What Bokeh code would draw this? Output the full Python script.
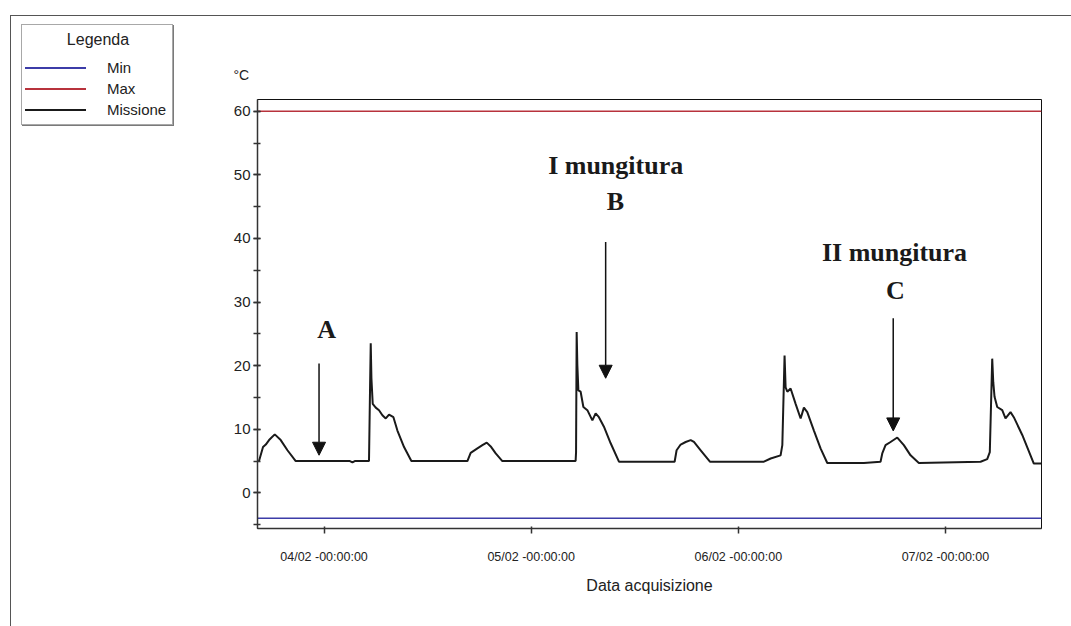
import pandas as pd
from bokeh.plotting import figure
from bokeh.layouts import row
from bokeh.models import (Range1d, FixedTicker, SingleIntervalTicker, DatetimeTickFormatter,
                          Arrow, NormalHead, Label, Div)
from bokeh.embed import file_html
from bokeh.resources import INLINE

# ---------------- data ----------------
BASE = pd.Timestamp("2011-02-04 00:00:00")   # 04/02 -00:00:00

# hours after 04/02 00:00 and temperature of the "Missione" series (°C)
mission_hours = [
    -7.56, -7.07, -6.75, -6.37, -5.71, -5.02, -4.24, -3.28, 3.00, 3.29, 3.56, 5.21,
    5.33, 5.41, 5.49, 5.64, 5.99, 6.37, 6.76, 7.15, 7.53, 8.04, 8.50, 9.27, 10.12,
    16.61, 16.99, 17.77, 18.35, 18.85, 19.31, 19.89, 20.66, 29.15, 29.20, 29.27, 29.35,
    29.47, 29.73, 30.05, 30.51, 31.09, 31.47, 31.85, 32.43, 33.21, 34.17,
    40.62, 40.85, 41.32, 41.90, 42.48, 42.86, 43.64, 44.71, 50.97, 51.75, 52.90, 53.10,
    53.36, 53.48, 53.68, 54.06, 54.64, 55.22, 55.60, 55.99, 56.76, 57.53, 58.31,
    62.55, 64.48, 64.68, 65.06, 65.64, 66.42, 67.18, 67.96, 68.92, 76.07, 76.84, 77.14,
    77.42, 77.54, 77.69, 78.00, 78.58, 78.96, 79.54, 79.92, 80.90, 82.24, 83.13,
]
mission_temps = [
    4.9, 7.2, 7.6, 8.3, 9.2, 8.3, 6.7, 5.0, 5.0, 4.8, 5.0, 5.0,
    16.4, 23.5, 18.0, 14.0, 13.4, 13.0, 12.2, 11.7, 12.3, 11.9, 9.8, 7.2, 5.0,
    5.0, 6.3, 7.0, 7.5, 7.9, 7.3, 6.2, 5.0, 5.0, 6.4, 25.3, 20.1,
    16.1, 15.9, 13.5, 13.0, 11.4, 12.5, 11.9, 10.4, 7.8, 4.9,
    4.9, 6.7, 7.6, 8.0, 8.3, 8.0, 6.7, 4.9, 4.9, 5.4, 5.9, 7.5,
    21.6, 16.6, 15.9, 16.4, 14.0, 11.7, 13.4, 12.7, 9.8, 7.0, 4.7,
    4.7, 4.9, 6.2, 7.5, 8.0, 8.7, 7.5, 5.9, 4.7, 4.9, 5.3, 6.4,
    21.1, 17.4, 15.1, 13.5, 13.0, 11.7, 12.7, 11.9, 9.1, 4.6, 4.6,
]

min_limit = -4     # "Min"
max_limit = 60     # "Max"

x_range_hours = [-7.71, 83.13]
y_range_vals = [-5.6, 61.84]
tick_days = [0, 1, 2, 3]            # 04/02 .. 07/02 at midnight

# annotations (hours, °C)
note_texts = ["A", "I mungitura", "B", "II mungitura", "C"]
note_hours = [0.31, 33.79, 33.77, 66.1, 66.2]
note_temps = [25.75, 51.4, 45.8, 37.8, 31.84]
arrow_hours = [-0.58, 32.63, 65.95]
arrow_top = [20.32, 39.42, 27.44]
arrow_tip = [5.92, 18.02, 9.74]

legend_title = "Legenda"
legend_labels = ["Min", "Max", "Missione"]
series_colors = ["#3c3ca8", "#b8323c", "#1a1a1a"]
series_widths = [1.6, 1.6, 2]
unit_label = "°C"

LEFT_W = 200


def ms(h):
    return BASE.value / 1e6 + h * 3600.0 * 1000.0


# ---------------- main chart ----------------
p = figure(width=1071 - LEFT_W, height=626, output_backend="svg", toolbar_location=None,
           x_axis_type="datetime",
           x_range=Range1d(ms(x_range_hours[0]), ms(x_range_hours[1])),
           y_range=Range1d(y_range_vals[0], y_range_vals[1]),
           min_border_left=257 - LEFT_W, min_border_right=30,
           min_border_top=99, min_border_bottom=98)
p.margin = 0
p.grid.visible = False
p.background_fill_color = "white"
p.border_fill_alpha = 0
p.outline_line_color = "#111111"
p.outline_line_width = 1

# unit label above the y axis
p.title.text = unit_label
p.title.align = "left"
p.title.offset = -24
p.title.standoff = 33
p.title.text_font = "Liberation Sans"
p.title.text_font_size = "14px"
p.title.text_font_style = "normal"
p.title.text_color = "#222222"

# lines
p.line([ms(x_range_hours[0]), ms(x_range_hours[1])], [min_limit, min_limit],
       line_color=series_colors[0], line_width=series_widths[0])
p.line([ms(x_range_hours[0]), ms(x_range_hours[1])], [max_limit, max_limit],
       line_color=series_colors[1], line_width=series_widths[1])
p.line([ms(h) for h in mission_hours], mission_temps,
       line_color=series_colors[2], line_width=series_widths[2])

# axes
xa = p.xaxis[0]
xa.ticker = FixedTicker(ticks=[ms(24 * d) for d in tick_days])
fmt = "%d/%m -%H:%M:%S"
xa.formatter = DatetimeTickFormatter(microseconds=fmt, milliseconds=fmt, seconds=fmt,
                                     minsec=fmt, minutes=fmt, hourmin=fmt, hours=fmt,
                                     days=fmt, months=fmt, years=fmt)
xa.axis_label = "Data acquisizione"
xa.axis_label_text_font = "Liberation Sans"
xa.axis_label_text_font_style = "normal"
xa.axis_label_text_font_size = "16px"
xa.axis_label_text_color = "#222222"
xa.axis_label_standoff = 10
xa.major_label_text_font = "Liberation Sans"
xa.major_label_text_font_size = "12.5px"
xa.major_label_text_color = "#222222"
xa.major_label_standoff = 16
xa.axis_line_color = "#333333"
xa.axis_line_width = 1.5
xa.major_tick_line_color = "#333333"
xa.major_tick_line_width = 1.5
xa.major_tick_in = 2
xa.major_tick_out = 5
xa.minor_tick_line_color = None

ya = p.yaxis[0]
ya.ticker = SingleIntervalTicker(interval=10, num_minor_ticks=2)
ya.major_label_text_font = "Liberation Sans"
ya.major_label_text_font_size = "15px"
ya.major_label_text_color = "#222222"
ya.major_label_standoff = 3
ya.axis_line_color = "#333333"
ya.axis_line_width = 1.5
ya.major_tick_line_color = "#333333"
ya.major_tick_line_width = 1.5
ya.minor_tick_line_color = "#333333"
ya.minor_tick_line_width = 1.5
ya.major_tick_in = 3
ya.major_tick_out = 4
ya.minor_tick_in = 3
ya.minor_tick_out = 4

# annotations
for t, h, v in zip(note_texts, note_hours, note_temps):
    p.add_layout(Label(x=ms(h), y=v, text=t, text_font="Liberation Serif",
                       text_font_style="bold", text_font_size="26px",
                       text_color="#1a1a1a", text_align="center",
                       text_baseline="alphabetic"))
for h, top, tip in zip(arrow_hours, arrow_top, arrow_tip):
    p.add_layout(Arrow(x_start=ms(h), y_start=top, x_end=ms(h), y_end=tip,
                       line_color="#111111", line_width=1.5,
                       end=NormalHead(size=13, fill_color="#111111",
                                      line_color="#111111", line_width=1)))

# ---------------- legend box (top-left corner of the picture) ----------------
rows_html = ""
for i, (lab, col) in enumerate(zip(legend_labels, series_colors)):
    cy = 43 + 21 * i
    rows_html += (
        f'<div style="position:absolute;left:3px;top:{cy - 1}px;width:61px;height:0;'
        f'border-top:2px solid {col};"></div>'
        f'<div style="position:absolute;left:85px;top:{cy - 9}px;font-size:15px;'
        f'line-height:18px;white-space:nowrap;">{lab}</div>'
    )
legend_html = (
    '<div style="position:relative;width:200px;height:626px;">'
    '<div style="position:absolute;left:21px;top:24px;width:152px;height:101px;'
    'border:1px solid #a8a8a8;box-shadow:1px 1px 0 #7a7a7a;background:white;'
    "font-family:'Liberation Sans',Arial,sans-serif;color:#222222;\">"
    f'<div style="position:absolute;left:0;top:6px;width:152px;text-align:center;'
    f'font-size:16px;line-height:18px;">{legend_title}</div>'
    + rows_html +
    '</div></div>'
)
legend_div = Div(text=legend_html, width=LEFT_W, height=626, margin=0)

layout = row(legend_div, p, spacing=0)
# outer frame of the picture (left and top edges)
layout.styles = {"box-shadow": "inset 10px 15px 0 0 white, inset 11px 16px 0 0 #555555",
                 "background-color": "white"}

open("out.html", "w").write(file_html(layout, INLINE))
